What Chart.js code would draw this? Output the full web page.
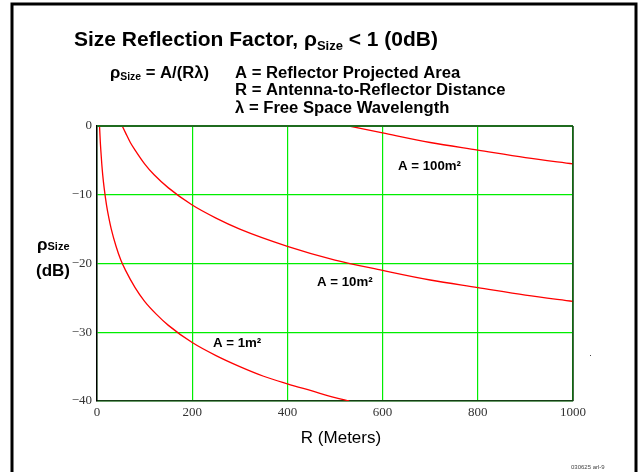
<!DOCTYPE html>
<html>
<head>
<meta charset="utf-8">
<script src="https://cdn.jsdelivr.net/npm/chart.js@4/dist/chart.umd.min.js"></script>
<style>
  html, body { margin: 0; padding: 0; background: #fff; }
  #wrap { width: 639px; height: 472px; }
</style>
</head>
<body>
<div id="wrap"><canvas id="chart" width="639" height="472"></canvas></div>
<script>
// ── Data ──────────────────────────────────────────────────
const xTicks = [0, 200, 400, 600, 800, 1000];
const yTicks = [0, -10, -20, -30, -40];

// A = 1 m²
const range1 = [5.3, 6, 7, 8, 10, 12, 15, 20, 25, 30, 40, 50, 60, 80, 100, 125, 150, 200, 250, 300, 350, 400, 450, 500, 530];
const rho1 = [0, -1.0, -2.4, -3.5, -5.5, -7.1, -9.0, -11.5, -13.4, -15.0, -17.5, -19.5, -21.0, -23.5, -25.5, -27.4, -29.0, -31.5, -33.4, -35.0, -36.4, -37.5, -38.5, -39.5, -40];

// A = 10 m²
const range10 = [53, 60, 70, 80, 100, 120, 150, 200, 250, 300, 400, 500, 600, 700, 800, 900, 1000];
const rho10 = [0, -1.0, -2.4, -3.5, -5.5, -7.1, -9.0, -11.5, -13.4, -15.0, -17.5, -19.5, -21.0, -22.4, -23.5, -24.6, -25.5];

// A = 100 m²
const range100 = [530, 600, 700, 800, 900, 1000];
const rho100 = [0, -1.0, -2.4, -3.5, -4.6, -5.5];

const SANS = '"Liberation Sans", Arial, Helvetica, sans-serif';
const SERIF = '"Liberation Serif", "Times New Roman", serif';

const toPoints = (xs, ys) => xs.map((x, i) => ({ x, y: ys[i] }));

function curve(xs, ys) {
  return {
    data: toPoints(xs, ys),
    showLine: true,
    borderColor: '#ff0000',
    borderWidth: 1.3,
    pointRadius: 0,
    cubicInterpolationMode: 'monotone',
  };
}

// draw a run of text pieces (subscripts etc.), stretched horizontally by sx
function drawRuns(ctx, x, y, runs, sx = 1) {
  ctx.save();
  ctx.translate(x, y);
  ctx.scale(sx, 1);
  let cx = 0;
  for (const r of runs) {
    ctx.font = r.font;
    ctx.fillText(r.text, cx, r.dy || 0);
    cx += ctx.measureText(r.text).width;
  }
  ctx.restore();
}

// ── Decorations ───────────────────────────────────────────
const decor = {
  id: 'decor',
  afterDraw(chart) {
    const { ctx, chartArea: a } = chart;
    ctx.save();

    // plot frame top / right
    ctx.strokeStyle = '#1f6b1f';
    ctx.lineWidth = 2;
    ctx.beginPath();
    ctx.moveTo(a.left, a.top);
    ctx.lineTo(a.right, a.top);
    ctx.stroke();
    ctx.strokeStyle = '#143d14';
    ctx.lineWidth = 1.5;
    ctx.beginPath();
    ctx.moveTo(a.right, a.top);
    ctx.lineTo(a.right, a.bottom);
    ctx.stroke();

    // outer border
    ctx.strokeStyle = '#000';
    ctx.lineWidth = 3;
    ctx.strokeRect(12, 4, 624, 480);

    ctx.fillStyle = '#000';
    ctx.textBaseline = 'alphabetic';
    ctx.textAlign = 'left';

    // title
    drawRuns(ctx, 74, 46, [
      { text: 'Size Reflection Factor, ρ', font: `bold 21px ${SANS}` },
      { text: 'Size', font: `bold 13px ${SANS}`, dy: 4 },
      { text: ' < 1 (0dB)', font: `bold 21px ${SANS}` },
    ]);

    // formula + legend text
    const f16 = `bold 16px ${SANS}`;
    drawRuns(ctx, 110, 77.5, [
      { text: 'ρ', font: f16 },
      { text: 'Size', font: `bold 10px ${SANS}`, dy: 2 },
      { text: ' = A/(Rλ)', font: f16 },
    ], 1.04);
    drawRuns(ctx, 235, 77.5, [{ text: 'A = Reflector Projected Area', font: f16 }], 1.04);
    drawRuns(ctx, 235, 95, [{ text: 'R = Antenna-to-Reflector Distance', font: f16 }], 1.04);
    drawRuns(ctx, 235, 112.5, [{ text: 'λ = Free Space Wavelength', font: f16 }], 1.04);

    // y axis title
    drawRuns(ctx, 37, 250, [
      { text: 'ρ', font: `bold 17px ${SANS}` },
      { text: 'Size', font: `bold 11px ${SANS}` },
    ]);
    drawRuns(ctx, 36, 276, [{ text: '(dB)', font: `bold 17px ${SANS}` }]);

    // x axis title
    ctx.font = `17px ${SANS}`;
    ctx.textAlign = 'center';
    ctx.fillText('R (Meters)', 341, 443);

    // curve labels
    ctx.textAlign = 'left';
    const f13 = `bold 13px ${SANS}`;
    drawRuns(ctx, 398, 170, [{ text: 'A = 100m²', font: f13 }], 1.02);
    drawRuns(ctx, 317, 286, [{ text: 'A = 10m²', font: f13 }], 1.02);
    drawRuns(ctx, 213, 347, [{ text: 'A = 1m²', font: f13 }], 1.02);

    // figure id + stray dot
    ctx.font = `6px ${SANS}`;
    ctx.fillStyle = '#444';
    ctx.fillText('030625 arl-9', 571, 469);
    ctx.fillRect(590, 355, 1, 1);

    ctx.restore();
  },
};

// ── Chart ─────────────────────────────────────────────────
const minusFmt = v => (v < 0 ? '\u2212' + Math.abs(v) : String(v));

new Chart(document.getElementById('chart'), {
  type: 'scatter',
  data: {
    datasets: [curve(range1, rho1), curve(range10, rho10), curve(range100, rho100)],
  },
  options: {
    responsive: false,
    animation: false,
    events: [],
    layout: { padding: { top: 126, right: 66, left: 0, bottom: 0 } },
    plugins: { legend: { display: false }, tooltip: { enabled: false } },
    scales: {
      x: {
        type: 'linear',
        min: xTicks[0],
        max: xTicks[xTicks.length - 1],
        afterBuildTicks: s => { s.ticks = xTicks.map(v => ({ value: v })); },
        afterFit: s => { s.height = 71; },
        grid: { color: '#00ee00', lineWidth: 1.2, drawTicks: false },
        border: { color: '#143d14', width: 1.5 },
        ticks: {
          color: '#333',
          padding: 4,
          maxRotation: 0,
          font: { family: SERIF, size: 13 },
          callback: v => minusFmt(v),
        },
      },
      y: {
        type: 'linear',
        min: yTicks[yTicks.length - 1],
        max: yTicks[0],
        afterBuildTicks: s => { s.ticks = yTicks.map(v => ({ value: v })); },
        afterFit: s => { s.width = 97; },
        grid: { color: '#00ee00', lineWidth: 1.2, drawTicks: false },
        border: { color: '#000', width: 1.5 },
        ticks: {
          color: '#333',
          padding: 5,
          font: { family: SERIF, size: 13 },
          callback: v => minusFmt(v),
        },
      },
    },
  },
  plugins: [decor],
});
</script>
</body>
</html>
